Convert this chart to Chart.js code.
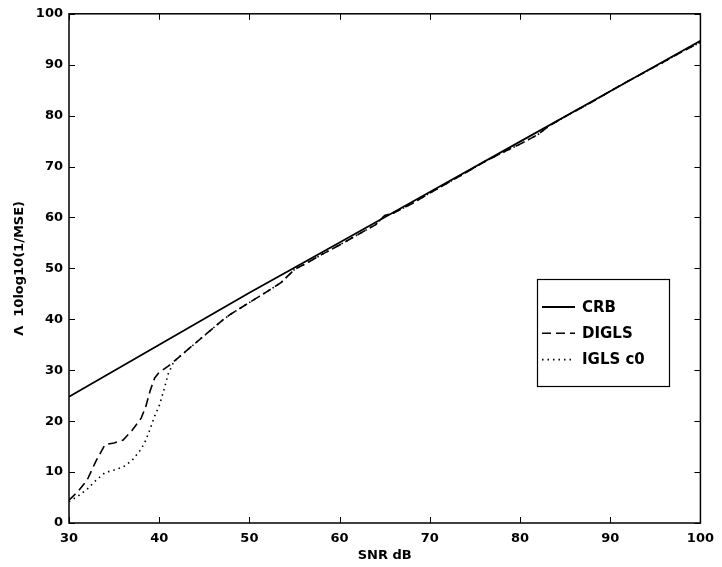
<!DOCTYPE html>
<html>
<head>
<meta charset="utf-8">
<script src="https://cdn.jsdelivr.net/npm/chart.js@4.4.0/dist/chart.umd.min.js"></script>
<style>
  html, body { margin: 0; padding: 0; background: #fff; }
  #wrap { width: 722px; height: 567px; }
</style>
</head>
<body>
<div id="wrap"><canvas id="lineChart" width="722" height="567"></canvas></div>
<script>
const CHART = document.getElementById("lineChart");

// values
let crbX = [30, 40, 50, 60, 70, 80, 90, 100]
let crbY = [24.8, 35.0, 45.2, 55.1, 65.0, 74.9, 84.8, 94.7]

let diglsX = [30, 31, 32, 33, 34, 35, 36, 37, 38, 38.5, 39, 39.5, 40, 41, 42, 43, 44, 45, 46, 47, 48, 50, 52, 53.5, 55, 56, 58, 60, 62, 64, 65, 66, 68, 70, 72, 74, 76, 78, 80, 82, 83, 84, 86, 88, 90, 92, 94, 96, 98, 100]
let diglsY = [4.5, 6.2, 8.4, 12.2, 15.4, 15.7, 16.3, 18.2, 20.6, 22.8, 26.0, 28.5, 29.6, 30.8, 32.3, 33.8, 35.3, 36.8, 38.3, 39.8, 41.1, 43.3, 45.5, 47.2, 49.8, 50.7, 52.7, 54.6, 56.6, 58.6, 60.4, 60.9, 62.7, 64.8, 66.8, 68.8, 70.9, 72.7, 74.4, 76.3, 77.7, 78.8, 80.8, 82.7, 84.8, 86.8, 88.7, 90.6, 92.6, 94.4]

let iglsX = [30, 31, 32, 33, 34, 35, 36, 37, 38, 38.5, 39, 39.5, 40, 40.5, 41, 41.6, 42, 43, 44, 45, 46, 47, 48, 50, 52, 53.5, 55, 56, 58, 60, 62, 64, 65, 66, 68, 70, 72, 74, 76, 78, 80, 82, 83, 84, 86, 88, 90, 92, 94, 96, 98, 100]
let iglsY = [4.2, 5.3, 6.6, 8.4, 9.9, 10.4, 11.0, 12.3, 14.5, 16.2, 18.5, 21.0, 23.0, 26.0, 29.3, 31.6, 32.3, 33.8, 35.3, 36.8, 38.3, 39.8, 41.1, 43.3, 45.5, 47.2, 49.8, 50.7, 52.7, 54.6, 56.6, 58.6, 60.4, 60.9, 62.7, 64.8, 66.8, 68.8, 70.9, 72.7, 74.4, 76.3, 77.7, 78.8, 80.8, 82.7, 84.8, 86.8, 88.7, 90.6, 92.6, 94.4]

let seriesNames = ['CRB', 'DIGLS', 'IGLS c0']

const FONT = "'DejaVu Sans', sans-serif"

function pts(xs, ys) {
    return xs.map((x, i) => ({x: x, y: ys[i]}))
}

// box + inward ticks, matlab style
const boxPlugin = {
    id: 'box',
    afterDatasetsDraw(chart) {
        const ctx = chart.ctx
        const a = chart.chartArea
        const xs = chart.scales.x, ys = chart.scales.y
        ctx.save()
        ctx.strokeStyle = '#000'
        ctx.lineWidth = 1.5
        ctx.strokeRect(a.left, a.top, a.right - a.left, a.bottom - a.top)
        ctx.lineWidth = 1
        ctx.beginPath()
        xs.ticks.forEach(t => {
            const px = Math.round(xs.getPixelForValue(t.value)) + 0.5
            ctx.moveTo(px, a.bottom); ctx.lineTo(px, a.bottom - 6)
            ctx.moveTo(px, a.top); ctx.lineTo(px, a.top + 6)
        })
        ys.ticks.forEach(t => {
            const py = Math.round(ys.getPixelForValue(t.value)) + 0.5
            ctx.moveTo(a.left, py); ctx.lineTo(a.left + 6, py)
            ctx.moveTo(a.right, py); ctx.lineTo(a.right - 6, py)
        })
        ctx.stroke()

        // legend box
        const L = {x: 537, y: 279, w: 132, h: 107}
        ctx.fillStyle = '#fff'
        ctx.fillRect(L.x, L.y, L.w, L.h)
        ctx.lineWidth = 1.2
        ctx.strokeRect(L.x + 0.5, L.y + 0.5, L.w, L.h)
        ctx.font = 'bold 15px ' + FONT
        ctx.textBaseline = 'middle'
        ctx.fillStyle = '#000'
        chart.data.datasets.forEach((ds, i) => {
            const yy = 307 + i * 26.3
            ctx.beginPath()
            ctx.setLineDash(ds.borderDash || [])
            ctx.lineWidth = ds.borderWidth
            ctx.moveTo(542, yy); ctx.lineTo(575, yy)
            ctx.stroke()
            ctx.setLineDash([])
            ctx.fillText(ds.label, 582, yy + 1)
        })
        ctx.restore()
    }
}

const data = {
    datasets: [{
        label: seriesNames[0],
        data: pts(crbX, crbY),
        borderColor: '#000',
        borderWidth: 1.8,
        borderDash: [],
    }, {
        label: seriesNames[1],
        data: pts(diglsX, diglsY),
        borderColor: '#000',
        borderWidth: 1.6,
        borderDash: [9, 5],
    }, {
        label: seriesNames[2],
        data: pts(iglsX, iglsY),
        borderColor: '#000',
        borderWidth: 1.6,
        borderDash: [1.5, 4],
    }]
};

let lineChart = new Chart(CHART, {
    type: 'line',
    data: data,
    plugins: [boxPlugin],
    options: {
        responsive: false,
        animation: false,
        events: [],
        layout: { padding: { top: 12, right: 14, left: 0, bottom: 0 } },
        elements: { point: { radius: 0 }, line: { tension: 0, fill: false } },
        plugins: { legend: { display: false }, tooltip: { enabled: false } },
        scales: {
            x: {
                type: 'linear',
                min: 30, max: 100,
                grid: { display: false, drawTicks: false },
                border: { display: false },
                ticks: { stepSize: 10, padding: 8, color: '#000', font: { family: FONT, size: 13, weight: 'bold' } },
                title: { display: true, text: 'SNR dB', color: '#000', font: { family: FONT, size: 13, weight: 'bold' }, padding: { top: 0, bottom: 4 } },
                afterFit: (s) => { s.height = 44 }
            },
            y: {
                min: 0, max: 100,
                grid: { display: false, drawTicks: false },
                border: { display: false },
                ticks: { stepSize: 10, padding: 6, color: '#000', font: { family: FONT, size: 13, weight: 'bold' } },
                title: { display: true, text: 'Λ  10log10(1/MSE)', color: '#000', font: { family: FONT, size: 13, weight: 'bold' }, padding: { top: 12, bottom: 0 } },
                afterFit: (s) => { s.width = 69 }
            }
        }
    }
})
</script>
</body>
</html>
